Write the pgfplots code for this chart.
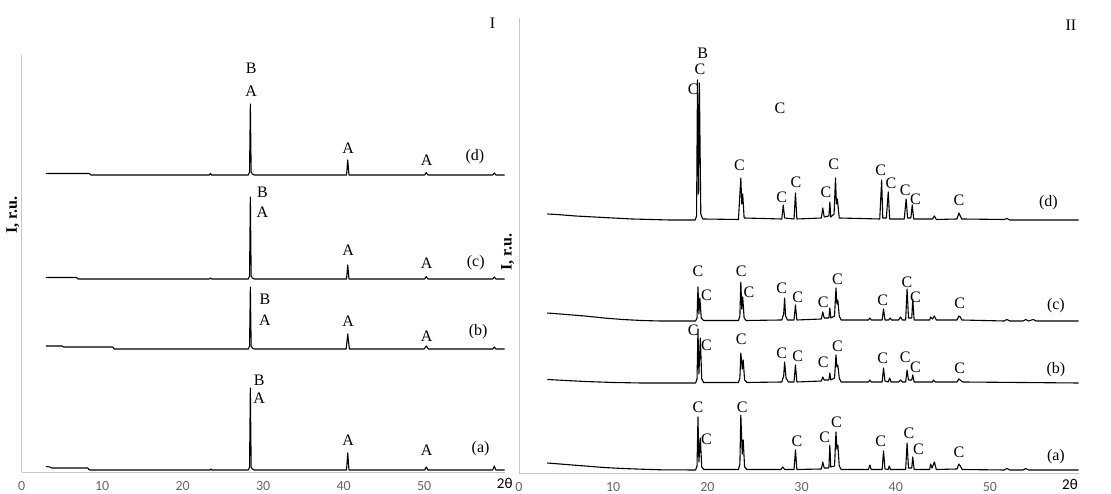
\documentclass[border=0pt]{standalone}
\usepackage{pgfplots}
\pgfplotsset{compat=1.18}
\usepackage{fontspec}
\setmainfont{Liberation Serif}
\newfontfamily\tickfont{Carlito}
\newcommand{\lab}{\fontsize{16}{16}\selectfont}
\begin{document}
\begin{tikzpicture}[x=1pt,y=1pt]
\useasboundingbox (0,0) rectangle (1111,494);
\pgfplotsset{xrd/.style={scale only axis, anchor=south west,
  axis x line=bottom, axis y line=left,
  axis line style={draw=black!22, line width=0.9pt, -},
  ytick=\empty, major tick length=0pt,
  xtick={0,10,20,30,40,50},
  tick label style={font=\tickfont\fontsize{14}{14}\selectfont, text=black!60},
  xticklabel style={yshift=-6pt},
  /pgf/number format/assume math mode=true,
  extra x tick style={tick label style={font=\tickfont\fontsize{15}{15}\selectfont, text=black, yshift=3pt}},
  clip=false},
  tr/.style={draw=black, line width=1.1pt, line join=round, mark=none}}
% ---------------- Panel I ----------------
\begin{axis}[xrd, at={(27,22)}, width=483pt, height=417pt,
  xmin=0, xmax=60, ymin=22, ymax=439,
  extra x ticks={60}, extra x tick labels={2θ}]
% (d)
\addplot[tr] coordinates {(3,320.5) (8.4,320.5) (8.6,319) (23.3,319) (23.45,320.5) (23.6,319) (28.15,319) (28.3,322) (28.4,390) (28.5,322) (28.65,320) (28.9,319) (40.35,319) (40.5,334) (40.65,319) (50.05,319) (50.25,321.5) (50.45,319) (58.5,319) (58.7,321) (58.9,319) (60,319)};
% (c)
\addplot[tr] coordinates {(3,216.5) (6.8,216.5) (7.0,215) (23.3,215) (23.45,216) (23.6,215) (28.15,215) (28.3,218) (28.4,297) (28.5,218) (28.65,216) (28.9,215) (40.35,215) (40.5,229) (40.65,215) (50.05,215) (50.25,217.5) (50.45,215) (58.5,215) (58.7,217) (58.9,215) (60,215)};
% (b)
\addplot[tr] coordinates {(3,148) (5.0,148) (5.2,147) (11.3,147) (11.5,145) (28.15,145) (28.3,148) (28.4,207) (28.5,148) (28.65,146) (28.9,145) (40.3,145) (40.5,160) (40.7,145) (50.0,145) (50.25,148) (50.5,145) (58.5,145) (58.7,147) (58.9,145) (60,145)};
% (a)
\addplot[tr] coordinates {(3,27.5) (3.5,27) (3.7,26) (8.2,26) (8.4,24) (23.4,24) (23.5,25) (23.6,24) (28.15,24) (28.3,27) (28.4,106) (28.5,27) (28.65,25) (28.9,24) (40.35,24) (40.5,41) (40.65,24) (50.05,24) (50.25,27) (50.45,24) (58.5,24) (58.7,28) (58.9,24) (60,24)};
\begin{scope}[every node/.style={font=\lab, inner sep=0pt}]
\node at (axis cs:28.5,426) {B}; \node at (axis cs:28.5,403) {A};
\node at (axis cs:40.55,346) {A}; \node at (axis cs:50.3,334) {A}; \node at (axis cs:56.3,337) {(d)};
\node at (axis cs:29.9,302) {B}; \node at (axis cs:29.9,282) {A};
\node at (axis cs:40.55,244) {A}; \node at (axis cs:50.3,231) {A}; \node at (axis cs:56.4,231) {(c)};
\node at (axis cs:30.2,195) {B}; \node at (axis cs:30.2,174) {A};
\node at (axis cs:40.55,173) {A}; \node at (axis cs:50.3,158) {A}; \node at (axis cs:56.7,162) {(b)};
\node at (axis cs:29.5,114) {B}; \node at (axis cs:29.5,96) {A};
\node at (axis cs:40.55,54) {A}; \node at (axis cs:50.3,44) {A}; \node at (axis cs:57.0,45) {(a)};
\node at (axis cs:58.5,471) {I};
\node[rotate=90, font=\bfseries\lab] at (axis cs:-1.1,279) {I, r.u.};
\end{scope}
\end{axis}
% ---------------- Panel II ----------------
\begin{axis}[xrd, at={(551,21)}, width=559.5pt, height=455pt,
  xmin=0, xmax=59.4, ymin=21, ymax=476,
  extra x ticks={58.5}, extra x tick labels={2θ}]
% (d)
\addplot[tr] coordinates {(3,280) (4,279.5) (6,278) (8,277) (10,276) (12,275) (14,274.5) (16,274) (18.7,274) (18.85,278) (18.95,414) (19.05,300) (19.15,411) (19.3,280) (19.5,275) (23.3,274.5) (23.45,300) (23.55,316) (23.65,290) (23.75,300) (23.9,276) (27.9,275) (28.05,289) (28.2,276) (29.2,275) (29.35,301) (29.5,275) (32.1,276) (32.25,286) (32.4,277) (32.9,278) (33.0,292) (33.1,277) (33.45,280) (33.6,316) (33.7,290) (33.8,295) (34.0,276) (38.3,275) (38.5,314) (38.62,276) (39.0,276) (39.2,302) (39.35,275) (40.9,275) (41.1,295) (41.25,276) (41.6,276) (41.75,289) (41.9,275) (43.9,275) (44.1,278) (44.3,274.5) (46.5,275) (46.7,281) (47.0,275) (51.5,274.5) (51.8,275.5) (52.1,274) (59.4,274)};
% (c)
\addplot[tr] coordinates {(3,181) (5,179.5) (7,178) (9,176) (11,174.5) (13,173.5) (15,173) (18.75,173) (18.9,176) (19.0,207) (19.1,180) (19.2,196) (19.35,176) (19.6,173.5) (23.3,173.5) (23.45,178) (23.55,212) (23.65,185) (23.75,197) (23.9,176) (24.1,173.5) (27.9,174) (28.1,180) (28.2,196) (28.3,178) (28.5,174) (29.2,174) (29.35,189) (29.5,174) (32.1,175) (32.25,182) (32.4,176) (32.9,176) (33.0,186) (33.1,176) (33.5,178) (33.65,206) (33.75,190) (33.85,194) (34.0,178) (34.2,174) (37.1,174) (37.25,176) (37.4,174) (38.55,174) (38.7,185) (38.85,174) (39.25,174) (39.4,176) (39.55,174) (40.3,174) (40.5,177) (40.7,174) (41.05,174) (41.2,205) (41.35,176) (41.7,176) (41.8,195) (41.95,174) (43.6,174) (43.7,177) (43.9,175) (44.1,178) (44.3,174) (46.5,174) (46.7,178) (46.85,177) (47.0,174) (51.5,173) (51.8,174.5) (52.1,173) (53.5,173) (53.8,174.5) (54.1,173) (54.6,174.5) (54.9,173) (59.4,173)};
% (b)
\addplot[tr] coordinates {(3,114.5) (5,113.5) (7,112.5) (10,111.5) (13,111) (18.75,111) (18.9,115) (19.0,165) (19.1,120) (19.25,156) (19.4,115) (19.6,111.5) (23.3,111.5) (23.45,116) (23.55,141) (23.7,125) (23.8,134) (23.95,114) (24.2,111.5) (27.9,112) (28.1,118) (28.2,132) (28.35,116) (28.6,112) (29.2,112) (29.35,129) (29.5,112) (32.1,113) (32.25,117) (32.4,114) (32.9,114) (33.0,121) (33.1,114) (33.5,116) (33.65,139) (33.75,127) (33.85,129) (34.0,116) (34.2,112) (37.1,112) (37.25,114) (37.4,112) (38.55,112) (38.7,126) (38.85,113) (39.2,112) (39.35,116) (39.5,112) (40.3,112) (40.5,114) (40.7,112) (41.05,112) (41.2,124) (41.35,114) (41.7,114) (41.8,119) (41.95,112) (43.9,112) (44.0,114) (44.2,112) (46.5,112) (46.7,115) (46.9,113.5) (47.1,112) (59.4,111)};
% (a)
\addplot[tr] coordinates {(3,31) (5,29.5) (7,28) (9,26.5) (11,25.5) (13,24.8) (15,24.2) (18.75,24) (18.9,28) (19.0,77) (19.1,32) (19.25,56) (19.4,27) (19.6,24.5) (23.3,24.5) (23.45,30) (23.55,79) (23.7,40) (23.8,54) (23.95,27) (24.2,24.5) (27.8,24.5) (28.0,27) (28.2,24.5) (29.2,24.5) (29.35,44) (29.5,24.5) (32.1,25) (32.25,32) (32.4,26) (32.9,26) (33.0,49) (33.1,27) (33.5,28) (33.65,62) (33.75,45) (33.85,49) (34.0,28) (34.2,24.5) (37.1,24.5) (37.25,29) (37.4,24.5) (38.55,24.5) (38.7,43) (38.85,25) (39.2,24.5) (39.3,28) (39.45,24.5) (41.05,24.5) (41.2,51) (41.35,26) (41.7,26) (41.8,37) (41.95,24.5) (43.6,24.5) (43.7,30) (43.85,26) (44.1,32) (44.3,24.5) (46.5,25) (46.7,30) (46.85,28) (47.05,24.5) (51.5,24) (51.8,25.5) (52.1,24) (53.5,24) (53.8,25.5) (54.1,24) (59.4,24)};
\begin{scope}[every node/.style={font=\lab, inner sep=0pt}]
% (d)
\node at (axis cs:19.5,441) {B}; \node at (axis cs:19.2,425) {C}; \node at (axis cs:18.5,405) {C};
\node at (axis cs:27.7,386) {C}; \node at (axis cs:23.4,329) {C}; \node at (axis cs:27.9,297) {C};
\node at (axis cs:29.4,312) {C}; \node at (axis cs:32.6,302) {C}; \node at (axis cs:33.4,330) {C};
\node at (axis cs:38.4,324) {C}; \node at (axis cs:39.5,311) {C}; \node at (axis cs:41.0,304) {C};
\node at (axis cs:42.1,295) {C}; \node at (axis cs:46.7,294) {C}; \node at (axis cs:56.2,291) {(d)};
% (c)
\node at (axis cs:19.0,223) {C}; \node at (axis cs:19.9,199) {C}; \node at (axis cs:23.6,223) {C};
\node at (axis cs:24.4,202) {C}; \node at (axis cs:27.9,206) {C}; \node at (axis cs:29.6,197) {C};
\node at (axis cs:32.3,192) {C}; \node at (axis cs:33.8,215) {C}; \node at (axis cs:38.6,194) {C};
\node at (axis cs:41.2,212) {C}; \node at (axis cs:42.1,197) {C}; \node at (axis cs:46.8,191) {C};
\node at (axis cs:57.0,188) {(c)};
% (b)
\node at (axis cs:18.5,164) {C}; \node at (axis cs:19.9,149) {C}; \node at (axis cs:23.6,155) {C};
\node at (axis cs:27.9,141) {C}; \node at (axis cs:29.6,138) {C}; \node at (axis cs:32.3,132) {C};
\node at (axis cs:33.8,148) {C}; \node at (axis cs:38.6,136) {C}; \node at (axis cs:41.0,137) {C};
\node at (axis cs:42.1,127) {C}; \node at (axis cs:46.8,126) {C}; \node at (axis cs:57.0,124) {(b)};
% (a)
\node at (axis cs:19.0,87) {C}; \node at (axis cs:19.9,55) {C}; \node at (axis cs:23.7,87) {C};
\node at (axis cs:29.5,53) {C}; \node at (axis cs:32.45,57) {C}; \node at (axis cs:33.7,72) {C};
\node at (axis cs:38.4,53) {C}; \node at (axis cs:41.4,61) {C}; \node at (axis cs:42.4,45) {C};
\node at (axis cs:46.7,42) {C}; \node at (axis cs:57.0,37) {(a)};
\node at (axis cs:58.6,469) {II};
\node[rotate=90, font=\bfseries\lab] at (axis cs:-1.2,242) {I, r.u.};
\end{scope}
\end{axis}
\end{tikzpicture}
\end{document}
